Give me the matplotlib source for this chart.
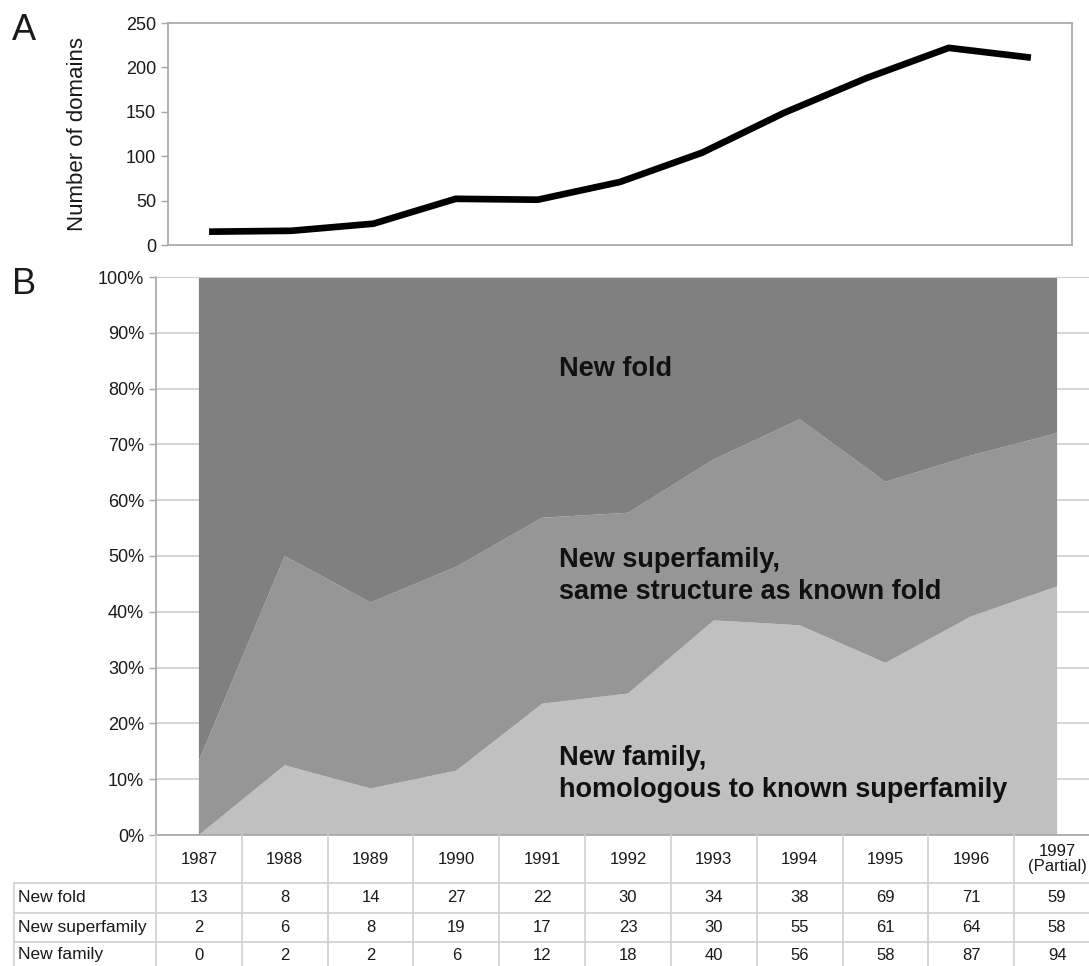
import numpy as np
import matplotlib
matplotlib.use("Agg")
import matplotlib.pyplot as plt
from matplotlib.ticker import FuncFormatter

plt.rcParams['font.family'] = ['Liberation Sans', 'DejaVu Sans']

years = ["1987", "1988", "1989", "1990", "1991", "1992", "1993",
         "1994", "1995", "1996", "1997\n(Partial)"]
new_fold = [13, 8, 14, 27, 22, 30, 34, 38, 69, 71, 59]
new_superfamily = [2, 6, 8, 19, 17, 23, 30, 55, 61, 64, 58]
new_family = [0, 2, 2, 6, 12, 18, 40, 56, 58, 87, 94]
row_names = ["New fold", "New superfamily", "New family"]

fold = np.array(new_fold, dtype=float)
sup = np.array(new_superfamily, dtype=float)
fam = np.array(new_family, dtype=float)
total = fold + sup + fam
x = np.arange(len(years))

W, H = 1089, 966
fig = plt.figure(figsize=(W / 100, H / 100), dpi=100)

def px_axes(left, top, right, bottom):
    return fig.add_axes([left / W, 1 - bottom / H, (right - left) / W, (bottom - top) / H])

edge = "#a6a6a6"
grid = "#cfcfcf"
ink = "#1a1a1a"

# ---- panel A: total domains per year
axA = px_axes(168, 23, 1072, 245)
axA.plot(x, total, color="black", lw=4.8, solid_joinstyle="round", solid_capstyle="butt")
axA.set_xlim(-0.5, 10.5)
axA.set_ylim(0, 250)
axA.set_yticks(range(0, 251, 50))
axA.set_xticks([])
for s in axA.spines.values():
    s.set_color(edge)
    s.set_linewidth(1.2)
axA.tick_params(axis="y", colors=edge, length=5, width=1, labelcolor=ink, labelsize=13)
axA.set_ylabel("Number of domains", fontsize=16, color=ink, labelpad=27)

# ---- panel B: fraction of each category
axB = px_axes(156, 277, 1100, 835)
p_fam = fam / total * 100
p_sup = sup / total * 100
p_fold = fold / total * 100
axB.stackplot(x, p_fam, p_sup, p_fold,
              colors=["#c0c0c0", "#969696", "#808080"], zorder=2, lw=0)
axB.set_xlim(-0.5, 10.5)
axB.set_ylim(0, 100)
axB.set_yticks(range(0, 101, 10))
axB.yaxis.set_major_formatter(FuncFormatter(lambda v, p: f"{v:.0f}%"))
axB.set_xticks([])
axB.grid(axis="y", color=grid, lw=1.2, zorder=0)
axB.set_axisbelow(True)
for k in ["right", "bottom"]:
    axB.spines[k].set_visible(False)
axB.spines["top"].set_color(grid)
axB.spines["left"].set_color(edge)
axB.spines["left"].set_linewidth(1.2)
axB.tick_params(axis="y", colors=edge, length=5, width=1, labelcolor=ink, labelsize=13)

lab = dict(fontsize=19.5, fontweight="bold", color="#111111", ha="left", va="center",
           linespacing=1.3, zorder=5)
axB.text(4.2, 83.5, "New fold", **lab)
axB.text(4.2, 46.4, "New superfamily,\nsame structure as known fold", **lab)
axB.text(4.2, 11.0, "New family,\nhomologous to known superfamily", **lab)

# ---- data table under panel B
axT = px_axes(14, 835, 1100, 966)
colw = (1100 - 156) / 11.0
tx0 = -0.5 - (156 - 14) / colw
axT.set_xlim(tx0, 10.5)
axT.set_ylim(966, 835)
axT.axis("off")
row_edges = [835, 883, 913, 942, 975]
for y in row_edges[1:-1]:
    axT.plot([tx0, 10.5], [y, y], color=grid, lw=1.2, clip_on=False)
axT.plot([-0.5, 10.5], [835, 835], color=edge, lw=1.2, clip_on=False)
for c in range(12):
    axT.plot([c - 0.5, c - 0.5], [835, 975], color=grid, lw=1.2, clip_on=False)
axT.plot([tx0, tx0], [883, 975], color=grid, lw=1.2, clip_on=False)

for c, yr in enumerate(years):
    axT.text(c, 859, yr, ha="center", va="center", fontsize=12, color=ink,
             linespacing=1.0)
rows = [new_fold, new_superfamily, new_family]
for r, (name, vals) in enumerate(zip(row_names, rows)):
    yc = (row_edges[r + 1] + row_edges[r + 2]) / 2 if r < 2 else 955
    axT.text(tx0 + 0.05, yc, name, ha="left", va="center", fontsize=12.5, color=ink)
    for c, v in enumerate(vals):
        axT.text(c, yc, str(v), ha="center", va="center", fontsize=12, color=ink)

fig.text(24 / W, 1 - 30 / H, "A", fontsize=26, ha="center", va="center", color=ink)
fig.text(24 / W, 1 - 284 / H, "B", fontsize=26, ha="center", va="center", color=ink)

fig.savefig("out.png", dpi=100)
